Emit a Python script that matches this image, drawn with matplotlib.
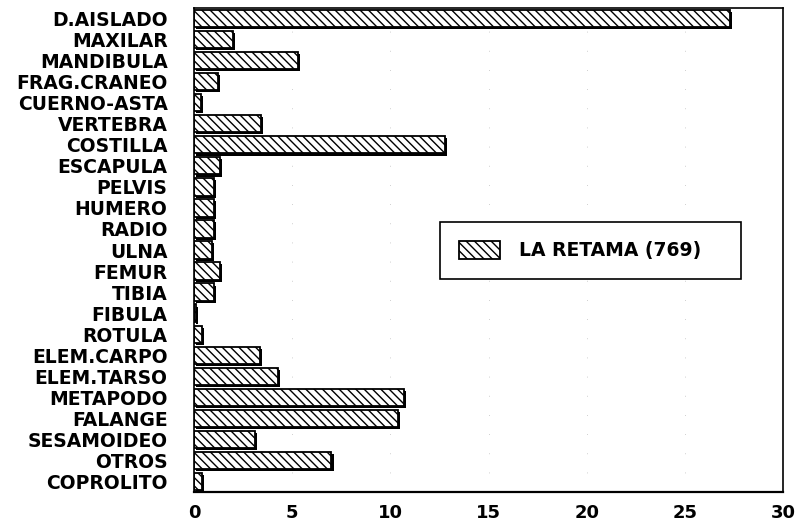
import numpy as np
import matplotlib
matplotlib.use('Agg')
import matplotlib.pyplot as plt
import matplotlib.patheffects as pe

# porcentaje de restos por elemento anatomico
elementos = ['D.AISLADO', 'MAXILAR', 'MANDIBULA', 'FRAG.CRANEO', 'CUERNO-ASTA',
             'VERTEBRA', 'COSTILLA', 'ESCAPULA', 'PELVIS', 'HUMERO', 'RADIO',
             'ULNA', 'FEMUR', 'TIBIA', 'FIBULA', 'ROTULA', 'ELEM.CARPO',
             'ELEM.TARSO', 'METAPODO', 'FALANGE', 'SESAMOIDEO', 'OTROS', 'COPROLITO']
la_retama = [27.3, 2.0, 5.3, 1.2, 0.35, 3.4, 12.8, 1.3, 1.0, 1.0, 1.0,
             0.9, 1.3, 1.0, 0.1, 0.4, 3.35, 4.3, 10.7, 10.4, 3.1, 7.0, 0.4]
serie = 'LA RETAMA (769)'
xticks = [0, 5, 10, 15, 20, 25, 30]

plt.rcParams['font.family'] = ['DejaVu Sans']
plt.rcParams['hatch.linewidth'] = 1.0

fig = plt.figure(figsize=(7.96, 5.24), dpi=100)
ax = fig.add_axes([0.2437, 0.0611, 0.74, 0.9236])

y = np.arange(len(elementos))
bars = ax.barh(y, la_retama, height=0.82, color='white', edgecolor='black',
               linewidth=1.3, hatch='\\\\\\\\', label=serie)
for b in bars:
    b.set_path_effects([pe.SimplePatchShadow(offset=(1.5, -1.5), shadow_rgbFace='black', alpha=1),
                        pe.Normal()])

ax.set_ylim(len(elementos) - 0.5, -0.5)
ax.set_xlim(0, 30)
ax.set_xticks(xticks)
ax.set_yticks(y)
ax.set_yticklabels(elementos)
ax.tick_params(axis='y', length=0, pad=19, labelsize=13.5)
ax.tick_params(axis='x', length=0, pad=9, labelsize=13)
for lab in ax.get_xticklabels() + ax.get_yticklabels():
    lab.set_fontweight('bold')

# rejilla punteada muy tenue
ax.grid(axis='x', color='0.75', linestyle=(0, (1, 22)), linewidth=0.6)
ax.set_axisbelow(True)

for s in ax.spines.values():
    s.set_linewidth(1.2)
    s.set_color('black')
ax.spines['bottom'].set_linewidth(1.6)

leg = ax.legend(loc='center', bbox_to_anchor=(0.418, 0.44, 0.511, 0.118), mode='expand',
                frameon=True, fancybox=False, edgecolor='black', handlelength=2.2,
                handleheight=1.1, handletextpad=1.0, borderpad=1.0, borderaxespad=0,
                prop={'size': 13.5, 'weight': 'bold'})
leg.get_frame().set_linewidth(1.2)
leg.get_frame().set_alpha(1)
for h in leg.legend_handles:
    h.set_path_effects([])

fig.savefig('out.png', dpi=100)
